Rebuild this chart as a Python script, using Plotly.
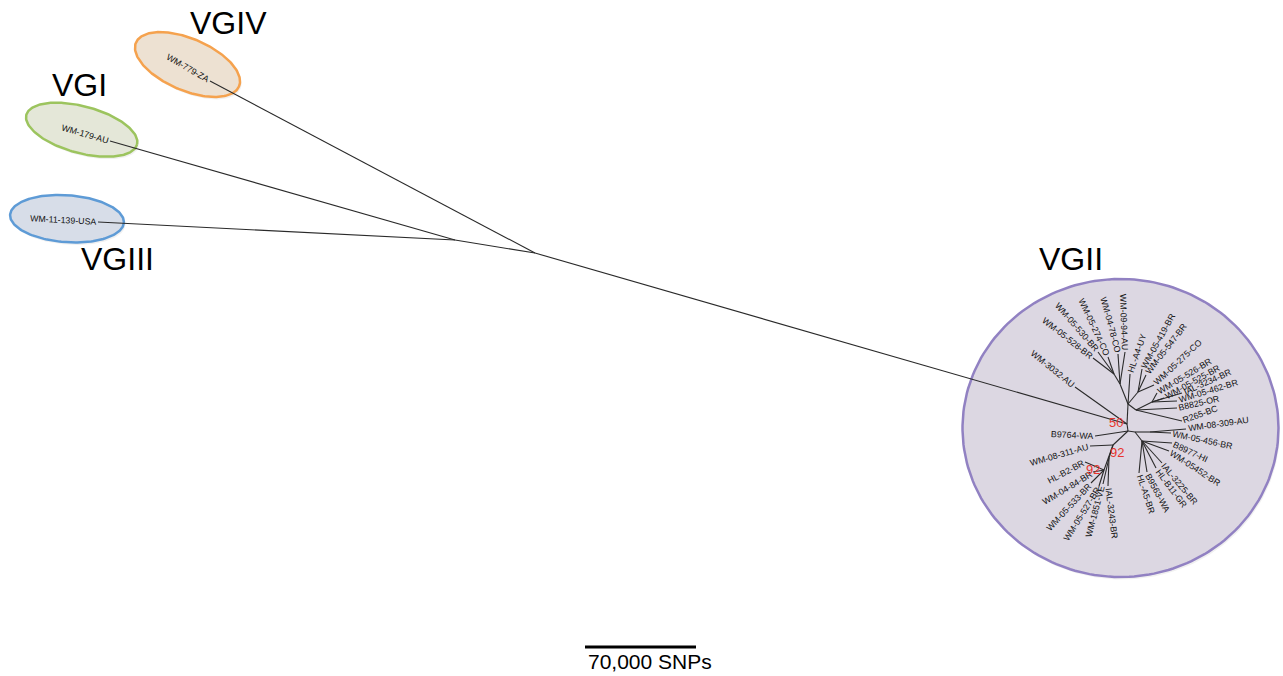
import numpy as np
import plotly.graph_objects as go

# ---------------- data: tree layout (drawing coordinates, y downwards) ----------------
internal_ids = ["n1", "n2", "R", "U", "UL", "UL2", "UR1", "UR2", "UR3", "A", "RL", "RL1", "RL2", "N92a", "N92b", "N92c"]
internal_x = [455, 535, 1127, 1128, 1120, 1114, 1138, 1136, 1152, 1128, 1135, 1150, 1142, 1113, 1104, 1109]
internal_y = [240, 253, 424, 404, 384, 374, 392, 410, 402, 431, 432, 432, 441, 445, 470, 458]
internal_parent = [None, "n1", "n2", "R", "U", "UL", "U", "U", "UR2", "R", "A", "RL", "RL", "A", "N92a", "N92a"]

leaf_names = ["WM-779-ZA", "WM-179-AU", "WM-11-139-USA",
              "WM-3032-AU", "WM-05-528-BR", "WM-05-530-BR", "WM-05-274-CO", "WM-04-78-CO", "WM-09-94-AU",
              "HL-A4-UY", "WM-05-419-BR", "WM-05-547-BR", "WM-05-275-CO", "WM-05-526-BR", "WM-05-525-BR",
              "IAL-3234-BR", "WM-05-462-BR", "B8825-OR", "R265-BC", "WM-08-309-AU", "WM-05-456-BR",
              "B8977-HI", "WM-05452-BR", "IAL-3225-BR", "HL-B11-GR", "B9563-WA", "HL-A5-BR",
              "IAL-3243-BR", "WM-1851-VE", "WM-05-527-BR", "WM-05-533-BR", "WM-04-84-BR", "HL-B2-BR",
              "WM-08-311-AU", "B9764-WA"]
leaf_x = [210, 110, 98,
          1075, 1093, 1098, 1108, 1118, 1125,
          1130, 1142, 1146, 1154, 1157, 1164,
          1182, 1177, 1177, 1182, 1186, 1171,
          1172, 1169, 1162, 1156, 1147, 1139,
          1108, 1103, 1099, 1091, 1093, 1085,
          1090, 1095]
leaf_y = [81, 141, 222,
          387, 358, 352, 357, 354, 352,
          374, 369, 375, 385, 393, 398,
          393, 401, 408, 421, 429, 433,
          443, 451, 463, 468, 472, 473,
          486, 484, 486, 483, 472, 462,
          446, 436]
leaf_parent = ["n2", "n1", "n1",
               "R", "UL2", "UL2", "UL2", "UL", "UL",
               "U", "UR1", "UR1", "UR1", "UR3", "UR3",
               "UR3", "UR3", "UR2", "UR2", "RL1", "RL1",
               "RL2", "RL2", "RL2", "RL2", "RL2", "RL2",
               "N92c", "N92c", "N92b", "N92b", "N92b", "N92b",
               "N92a", "A"]
leaf_angle = [30, 16, 3,
              39, 38, 49, 65, 75, 88,
              -71, -61, -52, -43, -31, -29,
              -24, -17, -13, -20, -8, 12,
              25, 33, 50, 53, 62, 72,
              83, -75, -58, -47, -31, -28,
              -16, 3]
leaf_side = ["end", "end", "end",
             "end", "end", "end", "end", "end", "end",
             "start", "start", "start", "start", "start", "start",
             "start", "start", "start", "start", "start", "start",
             "start", "start", "start", "start", "start", "start",
             "start", "end", "end", "end", "end", "end",
             "end", "end"]

bootstrap_text = ["50", "92", "92"]
bootstrap_x = [1116, 1117, 1093]
bootstrap_y = [422, 452, 469]

clade_names = ["VGIV", "VGI", "VGIII", "VGII"]
clade_label_x = [228, 79, 117, 1071]
clade_label_y = [23, 85, 259, 259]
clade_cx = [187.5, 81.7, 67, 1120.5]
clade_cy = [64.5, 129.7, 218.7, 428]
clade_a = [56, 57.3, 57, 158]
clade_b = [26, 23.4, 23.5, 149]
clade_rot = [23, 15, 4, 0]
clade_fill = ["#ede1d2", "#e4e7d8", "#d7dde8", "#dcd7e2"]
clade_edge = ["#f5a24e", "#9cc45e", "#5e9bd6", "#9181c2"]

scale_label = "70,000 SNPs"
scale_x = [585, 696]
scale_y = 647

# ---------------- helpers ----------------
W = {"W": .944, "M": .833, "-": .333, "A": .667, "U": .722, "B": .667, "R": .722, "C": .722,
     "O": .778, "H": .722, "L": .556, "Y": .667, "Z": .611, "S": .667, "I": .278, "V": .667,
     "E": .667, "G": .778, "N": .722, "P": .667, "s": .5, ",": .278, " ": .278}


def text_w(s, fs):
    return sum(W.get(c, .556) for c in s) * fs


pos = {k: (x, y) for k, x, y in zip(internal_ids, internal_x, internal_y)}

fig = go.Figure()

# clade ellipses
t = np.linspace(0, 2 * np.pi, 200)
for cx, cy, a, b, r, fc, ec in zip(clade_cx, clade_cy, clade_a, clade_b, clade_rot, clade_fill, clade_edge):
    th = np.deg2rad(r)
    ex = cx + a * np.cos(t) * np.cos(th) - b * np.sin(t) * np.sin(th)
    ey = cy + a * np.cos(t) * np.sin(th) + b * np.sin(t) * np.cos(th)
    fig.add_trace(go.Scatter(x=ex + 1.5, y=ey + 2.5, mode="lines", fill="toself",
                             fillcolor="rgba(0,0,0,0.06)", line=dict(width=0),
                             hoverinfo="skip", showlegend=False))
    fig.add_trace(go.Scatter(x=ex, y=ey, mode="lines", fill="toself", fillcolor=fc,
                             line=dict(color=ec, width=2.5), hoverinfo="skip", showlegend=False))

# branches
bx, by = [], []
for k, p in zip(internal_ids, internal_parent):
    if p is None:
        continue
    bx += [pos[p][0], pos[k][0], None]
    by += [pos[p][1], pos[k][1], None]
for x, y, p in zip(leaf_x, leaf_y, leaf_parent):
    bx += [pos[p][0], x, None]
    by += [pos[p][1], y, None]
fig.add_trace(go.Scatter(x=bx, y=by, mode="lines", line=dict(color="#2a2a2a", width=1.1),
                         hoverinfo="skip", showlegend=False))

# scale bar
fig.add_trace(go.Scatter(x=scale_x, y=[scale_y, scale_y], mode="lines",
                         line=dict(color="black", width=3), hoverinfo="skip", showlegend=False))

ann = []
FS = 8.8
for name, x, y, ang, side in zip(leaf_names, leaf_x, leaf_y, leaf_angle, leaf_side):
    w = text_w(name, FS)
    d = w / 2 + 2
    th = np.deg2rad(ang)
    sgn = 1 if side == "start" else -1
    cx = x + sgn * d * np.cos(th)
    cy = y + sgn * d * np.sin(th)
    ann.append(dict(x=cx, y=cy, text=name, textangle=ang, showarrow=False,
                    xanchor="center", yanchor="middle",
                    font=dict(size=FS, color="#111111", family="Liberation Sans, Arial, sans-serif")))

for s, x, y in zip(bootstrap_text, bootstrap_x, bootstrap_y):
    ann.append(dict(x=x, y=y, text=s, showarrow=False, xanchor="center", yanchor="middle",
                    font=dict(size=13, color="#e8342c", family="Liberation Sans, Arial, sans-serif")))

for s, x, y in zip(clade_names, clade_label_x, clade_label_y):
    ann.append(dict(x=x, y=y, text=s, showarrow=False, xanchor="center", yanchor="middle",
                    font=dict(size=32, color="black", family="Liberation Sans, Arial, sans-serif")))

ann.append(dict(x=(scale_x[0] + scale_x[1]) / 2 + 9, y=661, text=scale_label, showarrow=False,
                xanchor="center", yanchor="middle",
                font=dict(size=21, color="black", family="Liberation Sans, Arial, sans-serif")))

fig.update_layout(
    width=1283, height=676,
    margin=dict(l=0, r=0, t=0, b=0),
    paper_bgcolor="white", plot_bgcolor="white",
    xaxis=dict(range=[0, 1283], visible=False, fixedrange=True),
    yaxis=dict(range=[676, 0], visible=False, fixedrange=True),
    annotations=ann,
    showlegend=False,
)

fig.write_html("out.html", config={"displayModeBar": False},
               post_script="document.body.style.margin='0';")
